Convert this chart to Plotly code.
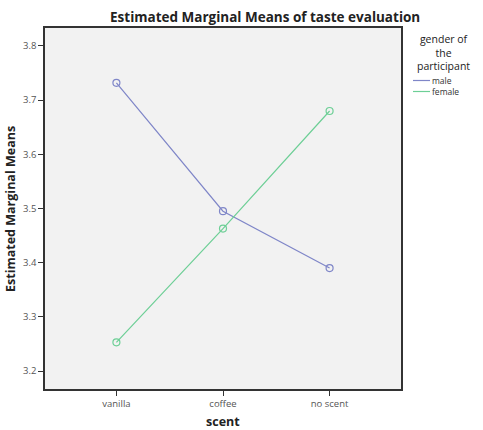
import plotly.graph_objects as go

categories = ["vanilla", "coffee", "no scent"]
male = [3.732, 3.495, 3.390]
female = [3.253, 3.463, 3.680]
y_ticks = [3.2, 3.3, 3.4, 3.5, 3.6, 3.7, 3.8]
legend_labels = ["male", "female"]
legend_title = "gender of<br>the<br>participant"
colors = ["#7f86c8", "#6dcf96"]

L, R, T, B = 45, 401, 28, 389
W, H = 483, 430

def px_x(p):
    return (p - L) / (R - L)

def px_y(p):
    return (B - p) / (B - T)

fig = go.Figure()
for name, vals, col in zip(legend_labels, [male, female], colors):
    fig.add_trace(go.Scatter(
        x=categories, y=vals, mode="lines+markers", name=name,
        line=dict(color=col, width=1.2),
        marker=dict(symbol="circle-open", size=7, color=col, line=dict(width=1.2, color=col)),
        showlegend=False,
    ))

font_fam = "Open Sans, DejaVu Sans, sans-serif"

annotations = [
    dict(text="<b>Estimated Marginal Means of taste evaluation</b>", x=px_x(265), y=px_y(17),
         xref="paper", yref="paper", showarrow=False, xanchor="center", yanchor="middle",
         font=dict(size=13.5, color="#222", family=font_fam)),
    dict(text="<b>Estimated Marginal Means</b>", x=px_x(10), y=px_y(209),
         xref="paper", yref="paper", showarrow=False, xanchor="center", yanchor="middle",
         textangle=-90, font=dict(size=12.5, color="#222", family=font_fam)),
    dict(text="<b>scent</b>", x=px_x(223), y=px_y(421),
         xref="paper", yref="paper", showarrow=False, xanchor="center", yanchor="middle",
         font=dict(size=12.5, color="#222", family=font_fam)),
    dict(text=legend_title, x=px_x(443), y=px_y(31), borderpad=0,
         xref="paper", yref="paper", showarrow=False, xanchor="center", yanchor="top",
         align="center", font=dict(size=10.5, color="#222", family=font_fam)),
    dict(text="<br>".join(legend_labels), x=px_x(431), y=px_y(86), borderpad=0,
         xref="paper", yref="paper", showarrow=False, xanchor="left", yanchor="middle",
         align="left", font=dict(size=8.5, color="#333", family=font_fam)),
]
shapes = []
for i, col in enumerate(colors):
    ly = 80.5 + 11 * i
    shapes.append(dict(type="line", xref="paper", yref="paper",
                       x0=px_x(413), x1=px_x(430), y0=px_y(ly), y1=px_y(ly),
                       line=dict(color=col, width=1.2)))

fig.update_layout(
    width=W, height=H,
    margin=dict(l=L, r=W - R, t=T, b=H - B, pad=0, autoexpand=False),
    paper_bgcolor="white", plot_bgcolor="#f2f2f2",
    font=dict(family=font_fam),
    annotations=annotations, shapes=shapes,
    xaxis=dict(
        type="category", range=[-0.67, 2.67], showgrid=False, zeroline=False,
        showline=True, linecolor="#333", linewidth=1.5, mirror=True,
        ticks="outside", ticklen=5, tickcolor="#333", tickwidth=1,
        tickfont=dict(size=9.5, color="#555"), automargin=False,
    ),
    yaxis=dict(
        range=[3.1668, 3.8332], tickvals=y_ticks, ticktext=[str(v) for v in y_ticks],
        showgrid=False, zeroline=False,
        showline=True, linecolor="#333", linewidth=1.5, mirror=True,
        ticks="outside", ticklen=5, tickcolor="#333", tickwidth=1,
        tickfont=dict(size=9.5, color="#555"), automargin=False,
    ),
)

fig.write_html("out.html")
